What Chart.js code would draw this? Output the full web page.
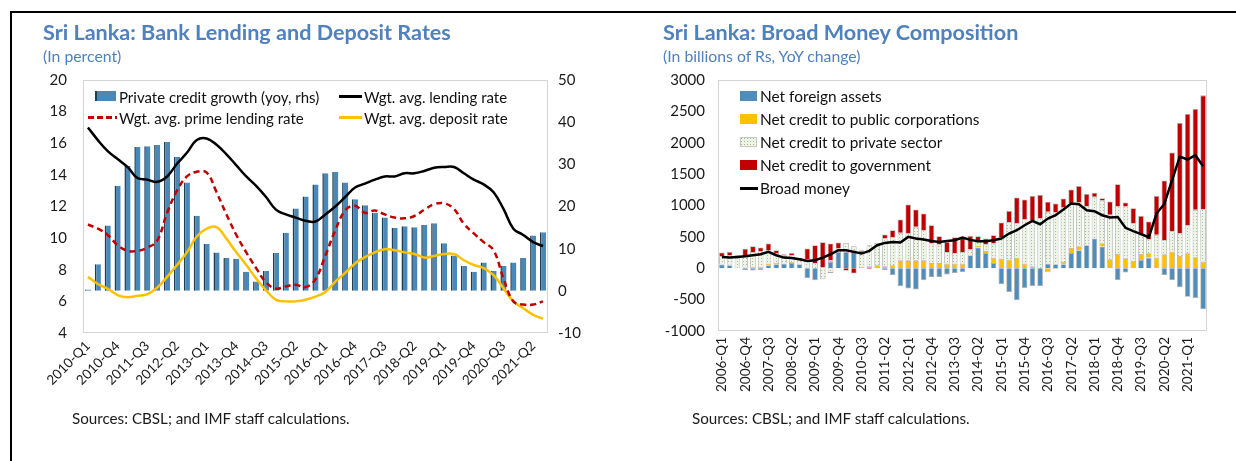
<!DOCTYPE html>
<html>
<head>
<meta charset="utf-8">
<script src="https://cdn.jsdelivr.net/npm/chart.js@4.4.1/dist/chart.umd.min.js"></script>
<style>
  body { margin: 0; width: 1236px; height: 461px; background: #fff; position: relative; overflow: hidden; font-family: Lato, "Open Sans", sans-serif; color: #1a1a1a; }
  canvas { position: absolute; top: 0; }
  #graficoTassi { left: 0; }
  #graficoMoneta { left: 620px; }
  .riga { position: absolute; background: #000; }
  .titolo { position: absolute; top: 19px; font-weight: bold; font-size: 21.6px; color: #4F81BD; white-space: nowrap; }
  .sotto { position: absolute; top: 46px; font-size: 15.8px; color: #4F81BD; white-space: nowrap; }
  .fonti { position: absolute; top: 409px; font-size: 15.2px; color: #1a1a1a; white-space: nowrap; }
  .voce { position: absolute; font-size: 15px; line-height: 18px; white-space: nowrap; color: #111; }
  .segno { position: absolute; }
</style>
</head>
<body>
<div class="riga" style="left:10px;top:11px;width:1226px;height:2px"></div>
<div class="riga" style="left:10px;top:11px;width:2px;height:450px"></div>

<canvas id="graficoTassi" width="620" height="461"></canvas>
<canvas id="graficoMoneta" width="616" height="461"></canvas>

<div class="titolo" style="left:43px">Sri Lanka: Bank Lending and Deposit Rates</div>
<div class="sotto" style="left:43px">(In percent)</div>
<div class="titolo" style="left:663px">Sri Lanka: Broad Money Composition</div>
<div class="sotto" style="left:663px">(In billions of Rs, YoY change)</div>
<div class="fonti" style="left:72px">Sources: CBSL; and IMF staff calculations.</div>
<div class="fonti" style="left:692px">Sources: CBSL; and IMF staff calculations.</div>

<!-- legenda sinistra -->
<div class="segno" style="left:95px;top:91px;width:21px;height:10px;background:#4A89B7;border-left:2px solid #203D52;box-sizing:border-box"></div>
<div class="voce" style="left:119px;top:88px">Private credit growth (yoy, rhs)</div>
<div class="segno" style="left:339px;top:95px;width:23px;height:2.5px;background:#000"></div>
<div class="voce" style="left:364px;top:88px">Wgt. avg. lending rate</div>
<div class="segno" style="left:88px;top:116px;width:29px;height:2.5px;background:repeating-linear-gradient(to right,#C00000 0 6px,transparent 6px 9px)"></div>
<div class="voce" style="left:119px;top:109px">Wgt. avg. prime lending rate</div>
<div class="segno" style="left:339px;top:116px;width:23px;height:2.5px;background:#FFC000"></div>
<div class="voce" style="left:364px;top:109px">Wgt. avg. deposit rate</div>

<!-- legenda destra -->
<div class="segno" style="left:740px;top:91px;width:17px;height:10px;background:#4F8DBA"></div>
<div class="voce" style="left:760px;top:87px;font-size:15.4px">Net foreign assets</div>
<div class="segno" style="left:740px;top:114px;width:17px;height:10px;background:#FFC000"></div>
<div class="voce" style="left:760px;top:110px;font-size:15.4px">Net credit to public corporations</div>
<div class="segno" style="left:740px;top:137px;width:17px;height:10px;background-color:#EEF4E6;background-image:radial-gradient(#9FB592 0.6px,transparent 0.9px);background-size:3px 3px;outline:1px solid #C8C8C8;outline-offset:-1px"></div>
<div class="voce" style="left:760px;top:133px;font-size:15.4px">Net credit to private sector</div>
<div class="segno" style="left:740px;top:160px;width:17px;height:10px;background:#C00000"></div>
<div class="voce" style="left:760px;top:156px;font-size:15.4px">Net credit to government</div>
<div class="segno" style="left:740px;top:187px;width:18px;height:2.5px;background:#000"></div>
<div class="voce" style="left:760px;top:179px;font-size:15.4px">Broad money</div>

<script>
//DATI - TASSI (2010-Q1 ... 2021-Q3)
const creditoPrivato = [0.3, 6.3, 15.5, 24.9, 29.6, 34.1, 34.3, 34.6, 35.3, 31.8, 25.7, 17.8, 11.1, 9.1, 7.8, 7.6,
  4.5, 2.2, 4.7, 9.0, 13.8, 19.5, 22.4, 25.2, 27.9, 28.2, 25.7, 21.7, 20.3, 18.5, 17.4, 14.9,
  15.3, 15.1, 15.6, 16.0, 11.3, 8.4, 5.9, 4.5, 6.7, 4.7, 5.9, 6.7, 7.8, 13.1, 13.9];
const tassoPrestiti = [17.0, 16.2, 15.5, 15.0, 14.5, 13.8, 13.7, 13.56, 13.9, 14.7, 15.4, 16.2, 16.3, 15.9, 15.3, 14.6,
  13.9, 13.3, 12.6, 11.8, 11.5, 11.3, 11.1, 11.05, 11.5, 12.0, 12.6, 13.2, 13.45, 13.7, 13.9, 13.9,
  14.1, 14.1, 14.25, 14.45, 14.5, 14.5, 14.1, 13.7, 13.4, 12.9, 11.85, 10.6, 10.2, 9.75, 9.5];
const tassoPrime = [10.86, 10.6, 10.2, 9.55, 9.2, 9.2, 9.4, 9.85, 11.6, 13.0, 13.9, 14.2, 14.15, 12.9, 11.5, 10.2,
  9.1, 8.1, 7.2, 6.8, 6.95, 7.05, 6.9, 7.4, 8.9, 10.5, 11.75, 12.05, 11.6, 11.75, 11.5, 11.3,
  11.25, 11.4, 11.8, 12.15, 12.2, 11.85, 10.9, 10.3, 9.75, 9.23, 7.45, 6.0, 5.8, 5.8, 6.0];
const tassoDepositi = [7.55, 7.1, 6.8, 6.4, 6.26, 6.35, 6.45, 6.87, 7.55, 8.3, 9.1, 10.1, 10.6, 10.7, 9.96, 9.1,
  8.3, 7.45, 6.7, 6.1, 6.0, 6.0, 6.1, 6.3, 6.6, 7.25, 7.8, 8.4, 8.8, 9.1, 9.3, 9.23,
  9.1, 9.0, 8.77, 8.87, 9.0, 9.0, 8.6, 8.3, 8.1, 7.66, 6.83, 6.0, 5.57, 5.15, 4.9];

//DATI - MONETA (2006-Q1 ... 2021-Q3)
const attiEsteri = [59, 48, 0, -32, -37, -27, 48, 64, 74, 85, 64, -154, -192, 0, 101, 261,
  261, 287, 0, 0, 0, -32, -112, -287, -324, -340, -192, -138, -138, -101, -74, -59,
  207, 330, 245, 85, -255, -378, -511, -314, -282, -287, 74, 64, 64, 245, 287, 367,
  474, 346, 0, -186, -69, 0, 133, 170, 0, -106, -186, -303, -455, -475, -655];
const creditoPubblico = [0, 10, 0, 10, 21, 21, 27, 21, 0, 16, 0, 10, 0, 10, 27, 53,
  0, 0, 20, 32, 48, 32, 48, 128, 128, 128, 128, 85, 85, 74, 74, 74,
  0, 32, 32, 85, 154, 138, 170, 74, 32, 5, -64, -10, 37, 80, 64, 5,
  0, 53, 144, 229, 160, 117, 96, 69, 170, 223, 266, 197, 239, 176, 106];
const creditoPrivatoSett = [133, 144, 170, 180, 239, 245, 213, 160, 133, 106, 74, 128, 85, -176, -74, 0,
  143, 64, 241, 335, 356, 441, 452, 436, 426, 532, 479, 309, 298, 186, 170, 186,
  90, 59, 106, 223, 346, 601, 553, 702, 734, 793, 825, 825, 867, 708, 697, 622,
  665, 681, 708, 755, 825, 601, 303, 223, 362, 229, 319, 362, 442, 755, 835];
const creditoGoverno = [59, 59, 37, 122, 90, 64, 106, 43, 16, 37, 30, 176, 282, 404, 266, 96,
  -40, -85, 27, -15, 0, 64, 106, 213, 463, 277, 266, 293, 128, 160, 250, 240,
  218, 90, 90, 133, 229, 176, 404, 319, 388, 372, 160, 144, 144, 223, 261, 192,
  64, 37, 213, 356, 64, 239, 303, 282, 622, 947, 1261, 1756, 1777, 1607, 1814];
const moneta = [181, 170, 181, 192, 207, 223, 261, 207, 170, 165, 144, 117, 128, 170, 223, 287,
  287, 261, 234, 277, 367, 404, 420, 410, 500, 473, 458, 436, 420, 436, 447, 489,
  452, 431, 431, 447, 473, 553, 606, 686, 755, 702, 792, 845, 936, 1032, 1021, 925,
  909, 845, 808, 815, 645, 592, 545, 494, 872, 1025, 1404, 1780, 1733, 1802, 1627];

// etichette trimestrali
const trimestri = function (annoInizio, quanti) {
  const out = [];
  for (let i = 0; i < quanti; i++) {
    out.push(annoInizio + Math.floor(i / 4) + "-Q" + ((i % 4) + 1));
  }
  return out;
};
const etichetteTassi = trimestri(2010, creditoPrivato.length);
const etichetteMoneta = trimestri(2006, moneta.length);

Chart.defaults.font.family = "Lato, 'Open Sans', sans-serif";
Chart.defaults.color = "#1a1a1a";

// bordo grigio intorno all'area del grafico
const cornice = {
  id: "cornice",
  beforeDatasetsDraw(chart) {
    const a = chart.chartArea;
    const c = chart.ctx;
    c.save();
    c.strokeStyle = "#D4D4D4";
    c.lineWidth = 1;
    c.strokeRect(a.left + 0.5, a.top + 0.5, a.width - 1, a.height - 1);
    c.restore();
  },
};

const ogniTre = function (v, i) {
  return i % 3 === 0 ? this.getLabelForValue(v) : "";
};

//GRAFICO TASSI
const graficoTassi = function () {
  const ctx = document.getElementById("graficoTassi").getContext("2d");
  new Chart(ctx, {
    type: "bar",
    data: {
      labels: etichetteTassi,
      datasets: [
        { type: "line", data: tassoPrestiti, borderColor: "#000", borderWidth: 2.5, pointRadius: 0, tension: 0.4, yAxisID: "y", order: 0 },
        { type: "line", data: tassoPrime, borderColor: "#C00000", borderWidth: 2.5, borderDash: [6, 4], pointRadius: 0, tension: 0.4, yAxisID: "y", order: 0 },
        { type: "line", data: tassoDepositi, borderColor: "#FFC000", borderWidth: 2.5, pointRadius: 0, tension: 0.4, yAxisID: "y", order: 0 },
        {
          data: creditoPrivato, backgroundColor: "#4A89B7", borderColor: "#203D52",
          borderWidth: { left: 1.5, top: 0, right: 0, bottom: 0 }, borderSkipped: false,
          barPercentage: 0.62, categoryPercentage: 1, yAxisID: "y1", order: 1,
        },
      ],
    },
    options: {
      responsive: false,
      animation: false,
      devicePixelRatio: 1,
      layout: { padding: { top: 80, bottom: 50, left: 0, right: 0 } },
      plugins: { legend: { display: false }, tooltip: { enabled: false } },
      scales: {
        x: {
          grid: { display: false, drawTicks: false },
          border: { display: false },
          ticks: { autoSkip: false, maxRotation: 45, minRotation: 45, padding: 5, font: { size: 13.5 }, callback: ogniTre },
          afterFit: (s) => { s.height = 78; },
        },
        y: {
          position: "left", min: 4, max: 20,
          grid: { display: false, drawTicks: false },
          border: { display: false },
          ticks: { stepSize: 2, padding: 16, font: { size: 15 } },
          afterFit: (s) => { s.width = 83; },
        },
        y1: {
          position: "right", min: -10, max: 50,
          grid: { display: false, drawTicks: false },
          border: { display: false },
          ticks: { stepSize: 10, padding: 10, font: { size: 15 } },
          afterFit: (s) => { s.width = 72; },
        },
      },
    },
    plugins: [cornice],
  });
};
graficoTassi();

//GRAFICO MONETA
const graficoMoneta = function () {
  const ctx = document.getElementById("graficoMoneta").getContext("2d");

  // trama a puntini per il credito privato
  const tessera = document.createElement("canvas");
  tessera.width = 3;
  tessera.height = 3;
  const t = tessera.getContext("2d");
  t.fillStyle = "#EEF4E6";
  t.fillRect(0, 0, 3, 3);
  t.fillStyle = "#A6BB98";
  t.fillRect(0, 0, 1, 1);
  const puntini = ctx.createPattern(tessera, "repeat");

  const bordoBarre = "rgba(150,150,150,0.8)";
  const barra = { borderColor: bordoBarre, borderWidth: 0.8, barPercentage: 0.72, categoryPercentage: 1, stack: "m", order: 1 };

  new Chart(ctx, {
    type: "bar",
    data: {
      labels: etichetteMoneta,
      datasets: [
        { type: "line", data: moneta, borderColor: "#000", borderWidth: 2.5, pointRadius: 0, tension: 0, stack: "linea", order: 0 },
        Object.assign({ data: attiEsteri, backgroundColor: "#4F8DBA" }, barra),
        Object.assign({ data: creditoPubblico, backgroundColor: "#FFC000" }, barra),
        Object.assign({ data: creditoPrivatoSett, backgroundColor: puntini }, barra),
        Object.assign({ data: creditoGoverno, backgroundColor: "#C00000" }, barra),
      ],
    },
    options: {
      responsive: false,
      animation: false,
      devicePixelRatio: 1,
      layout: { padding: { top: 80, bottom: 50, left: 0, right: 29 } },
      plugins: { legend: { display: false }, tooltip: { enabled: false } },
      scales: {
        x: {
          stacked: true,
          grid: { display: false, drawTicks: false },
          border: { display: false },
          ticks: { autoSkip: false, maxRotation: 90, minRotation: 90, padding: 6, font: { size: 13.5 }, callback: ogniTre },
          afterFit: (s) => { s.height = 80; },
        },
        y: {
          stacked: true, min: -1000, max: 3000,
          grid: { display: false, drawTicks: false },
          border: { display: false },
          ticks: { stepSize: 500, padding: 13, font: { size: 15 }, callback: (v) => String(v) },
          afterFit: (s) => { s.width = 98; },
        },
      },
    },
    plugins: [cornice],
  });
};
graficoMoneta();
</script>
</body>
</html>
